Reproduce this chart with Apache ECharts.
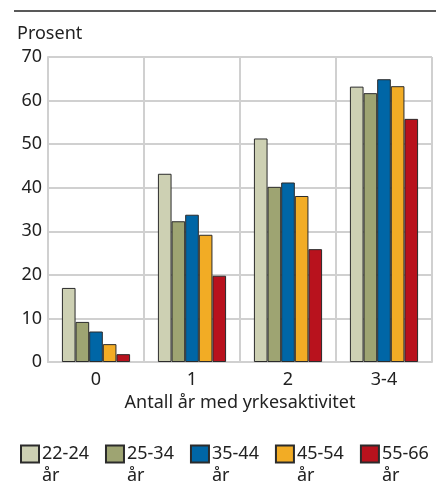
<!DOCTYPE html>
<html>
<head>
<meta charset="utf-8">
<script src="https://cdn.jsdelivr.net/npm/echarts@6/dist/echarts.min.js"></script>
<style>
    html, body { margin: 0; padding: 0; background: #fff; }
    #chart { width: 436px; height: 482px; }
</style>
</head>
<body>
<div id="chart"></div>
<script>
// 数据
var categories = ['0', '1', '2', '3-4'];
var ageGroups = ['22-24', '25-34', '35-44', '45-54', '55-66'];
var age2224 = [17, 43.2, 51.3, 63.2];
var age2534 = [9.2, 32.3, 40.2, 61.7];
var age3544 = [7, 33.8, 41.2, 64.9];
var age4554 = [4.1, 29.2, 38.1, 63.3];
var age5566 = [1.8, 19.8, 25.9, 55.8];
var yTicks = [0, 10, 20, 30, 40, 50, 60, 70];

var colors = ['#cdd0b3', '#9ea472', '#0066a6', '#f2ac25', '#b8121d'];
var font = '"Noto Sans", sans-serif';

function makeSeries(name, data, color) {
    return {
        name: name,
        type: 'bar',
        data: data,
        barGap: '0%',
        barCategoryGap: '29%',
        itemStyle: {
            color: color,
            borderColor: '#2b2b2b',
            borderWidth: 1
        }
    };
}

var chart = echarts.init(document.getElementById('chart'));
var option = {
    animation: false,
    textStyle: { fontFamily: font },
    grid: { left: 48, right: 4, top: 57, bottom: 120 },
    graphic: [
        {
            type: 'line',
            shape: { x1: 14, y1: 11, x2: 436, y2: 11 },
            style: { stroke: '#222', lineWidth: 1.5 }
        },
        {
            type: 'text',
            left: 17,
            top: 25,
            style: { text: 'Prosent', font: '18px ' + font, fill: '#222' }
        }
    ],
    legend: {
        left: 15,
        top: 416,
        icon: 'rect',
        itemWidth: 18,
        itemHeight: 17,
        itemGap: 16,
        data: ageGroups,
        // 首行留空, 让年龄段文字与色块对齐
        formatter: function (name) { return '\n' + name + '\når'; },
        textStyle: {
            fontFamily: font,
            fontSize: 18,
            color: '#222',
            lineHeight: 22,
            padding: [0, 0, 0, -2]
        }
    },
    xAxis: {
        type: 'category',
        data: categories,
        name: 'Antall år med yrkesaktivitet',
        nameLocation: 'middle',
        nameGap: 25,
        nameTextStyle: { fontSize: 18, color: '#222' },
        axisLine: { lineStyle: { color: '#d0d0d0', width: 2 } },
        axisTick: { show: false },
        axisLabel: { fontSize: 18, color: '#222', margin: 9 },
        splitLine: { show: true, lineStyle: { color: '#d0d0d0', width: 2 } }
    },
    yAxis: {
        type: 'value',
        min: yTicks[0],
        max: yTicks[yTicks.length - 1],
        interval: 10,
        axisLine: { show: true, lineStyle: { color: '#d0d0d0', width: 2 } },
        axisTick: { show: false },
        axisLabel: { fontSize: 18, color: '#222', margin: 6 },
        splitLine: { lineStyle: { color: '#d0d0d0', width: 2 } }
    },
    series: [
        makeSeries(ageGroups[0], age2224, colors[0]),
        makeSeries(ageGroups[1], age2534, colors[1]),
        makeSeries(ageGroups[2], age3544, colors[2]),
        makeSeries(ageGroups[3], age4554, colors[3]),
        makeSeries(ageGroups[4], age5566, colors[4])
    ]
};
chart.setOption(option);
</script>
</body>
</html>
